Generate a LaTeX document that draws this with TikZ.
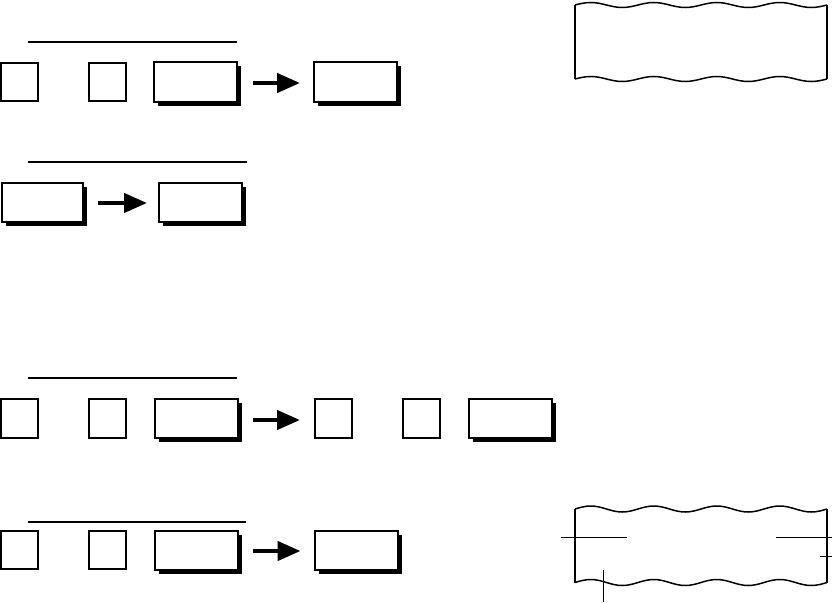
\documentclass[tikz,border=0pt]{standalone}
\usetikzlibrary{arrows.meta,shadows}
\begin{document}
\begin{tikzpicture}[x=1pt,y=-1pt,
  sq/.style={draw, line width=2pt, fill=white, minimum width=37pt, minimum height=38pt, inner sep=0pt},
  keybox/.style={draw, line width=2pt, fill=white, minimum width=83pt, minimum height=39pt, inner sep=0pt,
    drop shadow={shadow xshift=4pt, shadow yshift=-4pt, fill=black, opacity=1}},
  rule/.style={line width=1.3pt},
  bigarrow/.style={line width=4.5pt, -{Triangle[length=23pt,width=19pt]}},
  wave/.style={line width=1.5pt},
  tapeedge/.style={line width=2pt},
  leader/.style={line width=1pt}]
\useasboundingbox (0,0) rectangle (832,602);

% Row 1
\draw[rule] (28,42) -- (237,42);
\node[sq] (r1a) at (19.5,82) {};
\node[sq] (r1b) at (107,82) {};
\node[keybox] (r1c) at (195.5,82) {};
\node[keybox] (r1d) at (355.5,82) {};
\draw[bigarrow] ([xshift=15pt,yshift=-1pt]r1c.east) -- ([xshift=-13pt,yshift=-1pt]r1d.west);

% Row 2
\draw[rule] (28,162) -- (247,162);
\node[keybox, minimum width=81pt] (r2a) at (42.5,202) {};
\node[keybox] (r2b) at (200.5,202) {};
\draw[bigarrow] ([xshift=14pt,yshift=-1pt]r2a.east) -- ([xshift=-11pt,yshift=-1pt]r2b.west);

% Row 3
\draw[rule] (28,378) -- (237,378);
\node[sq, minimum height=39pt] (r3a) at (19.5,418) {};
\node[sq, minimum height=39pt] (r3b) at (107.5,418) {};
\node[keybox] (r3c) at (196,418) {};
\node[sq, minimum height=39pt] (r3d) at (333.5,418) {};
\node[sq, minimum height=39pt] (r3e) at (421,418) {};
\node[keybox] (r3f) at (510.5,418) {};
\draw[bigarrow] ([xshift=14pt,yshift=-2pt]r3c.east) -- ([xshift=-14pt,yshift=-2pt]r3d.west);

% Row 4
\draw[rule] (28,522) -- (246,522);
\node[sq] (r4a) at (19.5,550) {};
\node[sq] (r4b) at (107,550) {};
\node[keybox] (r4c) at (196,550) {};
\node[keybox] (r4d) at (356,550) {};
\draw[bigarrow] ([xshift=14pt,yshift=-1pt]r4c.east) -- ([xshift=-13pt,yshift=-1pt]r4d.west);

% Tape 1 (top right)
\draw[wave] (575,5) \foreach \i in {1,...,4} { sin ++(15.75,-2.5) cos ++(15.75,2.5) sin ++(15.75,2.5) cos ++(15.75,-2.5) };
\draw[wave] (575,79) \foreach \i in {1,...,4} { sin ++(15.75,-2.5) cos ++(15.75,2.5) sin ++(15.75,2.5) cos ++(15.75,-2.5) };
\draw[tapeedge] (575,5) -- (575,79);
\draw[tapeedge] (827,5) -- (827,79);

% Tape 2 (bottom right)
\draw[wave] (575,509) \foreach \i in {1,...,4} { sin ++(15.75,-3) cos ++(15.75,3) sin ++(15.75,3) cos ++(15.75,-3) };
\draw[wave] (575,582.5) \foreach \i in {1,...,4} { sin ++(15.75,-3) cos ++(15.75,3) sin ++(15.75,3) cos ++(15.75,-3) };
\draw[tapeedge] (575,509) -- (575,582.5);
\draw[tapeedge] (827,509) -- (827,582.5);

% Leader lines
\coordinate (l1a) at (561,537); \coordinate (l1b) at (627,537);
\coordinate (l2a) at (776,537); \coordinate (l2b) at (832,537);
\coordinate (l3a) at (820,556); \coordinate (l3b) at (832,556);
\coordinate (l4a) at (603,570); \coordinate (l4b) at (603,602);
\draw[leader] (l1a) -- (l1b);
\draw[leader] (l2a) -- (l2b);
\draw[leader] (l3a) -- (l3b);
\draw[leader] (l4a) -- (l4b);
\end{tikzpicture}
\end{document}
